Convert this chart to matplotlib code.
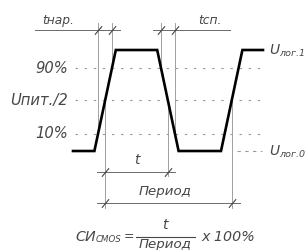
import numpy as np
import matplotlib
matplotlib.use("Agg")
import matplotlib.pyplot as plt

# Waveform (time in arbitrary units, level: 0 = logic 0, 1 = logic 1)
wave_t = [73, 94.4, 115.8, 157.2, 178.6, 221.0, 242.4, 263]
wave_v = [0, 0, 1, 1, 0, 0, 1, 1]

# Reference levels (as drawn) and their labels
level_values = [0.82, 0.505, 0.17]
level_labels = ["90%", "Uпит./2", "10%"]
level_t_range = [75, 265]

# logic-0 guide
low_guide_t = [237, 262]

# dimension levels
top_dim_v = 1.198
top_ext_v = 1.267
t_dim_v = -0.208
period_dim_v = -0.515
bottom_ext_v = -0.564
t_ext_v = -0.248

TXT = "#474747"
FONT = dict(family=["DejaVu Sans"], style="oblique", color=TXT)

fig = plt.figure(figsize=(3.05, 2.5), dpi=100)
ax = fig.add_axes([0, 0, 1, 1])
ax.set_xlim(0, 305)
ax.set_ylim(-0.980, 1.495)
ax.axis("off")

# dashed reference lines
for v, lab in zip(level_values, level_labels):
    ax.plot(level_t_range, [v, v], color="#9a9a9a", lw=0.8, dashes=(2.2, 6.0))
    ax.text(level_t_range[0] - 7, v, lab, ha="right", va="center",
            fontsize=10.6, **FONT)
ax.plot(low_guide_t, [0, 0], color="#9a9a9a", lw=0.8, dashes=(3, 4))

# crossing times computed from the waveform
rise1_t = np.array(wave_t[1:3]); rise1_v = np.array(wave_v[1:3])
fall_t = np.array(wave_t[3:5]); fall_v = np.array(wave_v[3:5])
rise2_t = np.array(wave_t[5:7]); rise2_v = np.array(wave_v[5:7])

def cross_rise(tt, vv, level):
    return np.interp(level, vv, tt)

def cross_fall(tt, vv, level):
    return np.interp(level, vv[::-1], tt[::-1])

lo, mid, hi = level_values[2], level_values[1], level_values[0]
tr10, tr90 = cross_rise(rise1_t, rise1_v, lo), cross_rise(rise1_t, rise1_v, hi)
tf90, tf10 = cross_fall(fall_t, fall_v, hi), cross_fall(fall_t, fall_v, lo)
tr50 = cross_rise(rise1_t, rise1_v, mid)
tf50 = cross_fall(fall_t, fall_v, mid)
t2r50 = cross_rise(rise2_t, rise2_v, mid)

ext = dict(color="#a0a0a0", lw=0.7)
dim = dict(color="#6a6a6a", lw=0.7)

# top extension lines
ax.plot([tr10, tr10], [lo, top_ext_v], **ext)
ax.plot([tr90, tr90], [hi, top_ext_v], **ext)
ax.plot([tf90, tf90], [hi, top_ext_v], **ext)
ax.plot([tf10, tf10], [lo, top_ext_v], **ext)
# top dimension lines
ax.plot([35, 120], [top_dim_v, top_dim_v], **dim)
ax.plot([153, 230], [top_dim_v, top_dim_v], **dim)
tick = dict(marker=(2, 0, -40), ms=8, mew=0.8, color="#444444", ls="none")
ax.plot([tr10, tr90, tf90, tf10], [top_dim_v] * 4, **tick)
ax.text(58, top_dim_v + 0.03, "tнар.", ha="center", va="bottom", fontsize=8.8, **FONT)
ax.text(210, top_dim_v + 0.03, "tсп.", ha="center", va="bottom", fontsize=8.8, **FONT)

# bottom extension lines
ax.plot([tr50, tr50], [mid, bottom_ext_v], **ext)
ax.plot([tf50, tf50], [mid, t_ext_v], **ext)
ax.plot([t2r50, t2r50], [mid, bottom_ext_v], **ext)
# bottom dimension lines
ax.plot([tr50 - 8, tf50 + 7], [t_dim_v, t_dim_v], **dim)
ax.plot([tr50 - 8, t2r50 + 8], [period_dim_v, period_dim_v], **dim)
ax.plot([tr50, tf50, tr50, t2r50], [t_dim_v, t_dim_v, period_dim_v, period_dim_v], **tick)
ax.text((tr50 + tf50) / 2, t_dim_v + 0.12, "t", ha="center", va="center", fontsize=10, **FONT)
ax.text((tr50 + t2r50) / 2 - 3, period_dim_v + 0.11, "Период", ha="center", va="center",
        fontsize=9.6, **FONT)

# waveform
ax.plot(wave_t, wave_v, color="black", lw=1.9, solid_joinstyle="miter")

# logic level labels
ax.text(269, 1.0, "U", ha="left", va="center", fontsize=10, **FONT)
ax.text(279, 0.97, "лог.1", ha="left", va="center", fontsize=6.8, **FONT)
ax.text(269, 0.0, "U", ha="left", va="center", fontsize=10, **FONT)
ax.text(279, -0.03, "лог.0", ha="left", va="center", fontsize=6.8, **FONT)

# formula
fy = -0.851
ax.text(75, fy, "СИ", ha="left", va="center", fontsize=10.3, **FONT)
ax.text(96, fy - 0.025, "CMOS", ha="left", va="center", fontsize=6.2, **FONT)
ax.text(129, fy, "=", ha="center", va="center", fontsize=9, **FONT)
ax.plot([136, 195], [fy, fy], color=TXT, lw=0.8)
ax.text(165, -0.735, "t", ha="center", va="center", fontsize=10, **FONT)
ax.text(165, -0.925, "Период", ha="center", va="center", fontsize=9.6, **FONT)
ax.text(201, fy, "x 100%", ha="left", va="center", fontsize=10.3, **FONT)

fig.savefig("out.png", dpi=100)
